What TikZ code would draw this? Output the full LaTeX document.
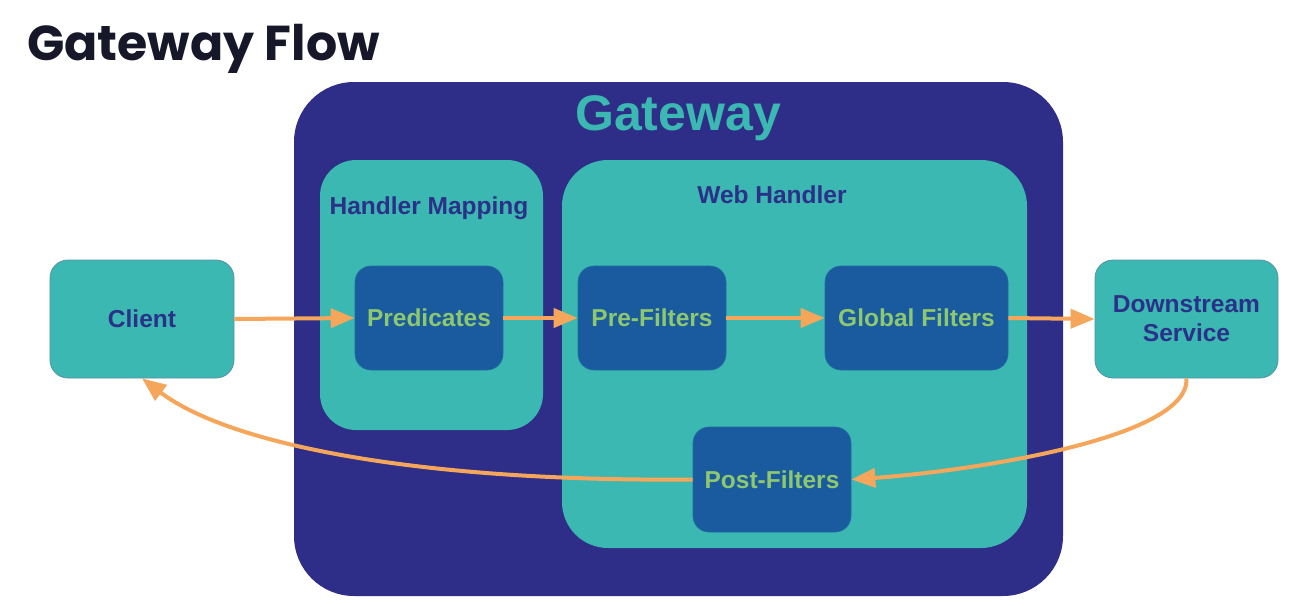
\documentclass[tikz,border=0pt]{standalone}
\usepackage{fontspec}
\setmainfont{Liberation Sans}
\newfontfamily\titlefont{Poppins}
\usetikzlibrary{arrows.meta}
\definecolor{gwnavy}{HTML}{2E2D87}
\definecolor{gwteal}{HTML}{3BB8B1}
\definecolor{gwblue}{HTML}{1A5A9F}
\definecolor{gwgreen}{HTML}{8DC86E}
\definecolor{gwtext}{HTML}{2B3088}
\definecolor{gworange}{HTML}{F5A65B}
\definecolor{gwtitle}{HTML}{17172A}
\definecolor{gwborder}{HTML}{5A8FA8}
\begin{document}
\begin{tikzpicture}[x=1pt,y=-1pt,
  outerbox/.style={fill=gwnavy, rounded corners=60pt, inner sep=0pt},
  tealbox/.style={fill=gwteal, inner sep=0pt},
  bluebox/.style={fill=gwblue, rounded corners=16pt, inner sep=0pt, draw=gwblue!80!gwteal, line width=0.6pt,
     text=gwgreen, font=\fontsize{24.5}{28}\selectfont\bfseries},
  endbox/.style={fill=gwteal, rounded corners=18pt, inner sep=0pt, draw=gwborder, line width=0.8pt,
     text=gwtext, font=\fontsize{24.5}{29}\selectfont\bfseries, align=center},
  lbl/.style={text=gwtext, font=\fontsize{24.5}{28}\selectfont\bfseries, inner sep=0pt},
  flow/.style={draw=gworange, line width=4pt, -{Triangle[length=24pt,width=19pt]}}
]
\useasboundingbox (0,0) rectangle (1299,606);
\fill[white] (0,0) rectangle (1299,606);

\node[anchor=base west, text=gwtitle, font=\titlefont\fontsize{49}{54}\selectfont\bfseries, inner sep=0pt] (title) at (27,60) {Gateway Flow};

\node[outerbox, minimum width=769pt, minimum height=514pt] (gw) at (678.5,339) {};
\node[text=gwteal, font=\fontsize{50}{56}\selectfont\bfseries, inner sep=0pt] (gwlbl) at (678,118) {Gateway};

\node[tealbox, rounded corners=36pt, minimum width=223pt, minimum height=270pt] (hm) at (431.5,295) {};
\node[lbl] (hmlbl) at (429,208) {Handler Mapping};

\node[tealbox, rounded corners=46pt, minimum width=465pt, minimum height=388pt] (wh) at (794.5,354) {};
\node[lbl] (whlbl) at (772,195) {Web Handler};

\node[bluebox, minimum width=148pt, minimum height=104pt] (pred) at (429,318) {Predicates};
\node[bluebox, minimum width=148pt, minimum height=104pt] (pre) at (652,318) {Pre-Filters};
\node[bluebox, minimum width=183pt, minimum height=104pt] (glob) at (916.5,318) {Global Filters};
\node[bluebox, minimum width=158pt, minimum height=105pt] (post) at (772,479.5) {Post-Filters};

\node[endbox, minimum width=184pt, minimum height=118pt] (client) at (142,319) {Client};
\node[endbox, minimum width=183pt, minimum height=118pt] (ds) at (1186.5,319) {Downstream\\Service};

\draw[flow] (client.east) -- (pred.west);
\draw[flow] (pred.east) -- (pre.west);
\draw[flow] (pre.east) -- (glob.west);
\draw[flow] (glob.east) -- (ds.west);
\draw[flow] (ds.south) .. controls (1190,440) and (960,472) .. (post.east);
\draw[flow] (post.west) .. controls (420,482) and (230,445) .. (client.south);
\end{tikzpicture}
\end{document}
